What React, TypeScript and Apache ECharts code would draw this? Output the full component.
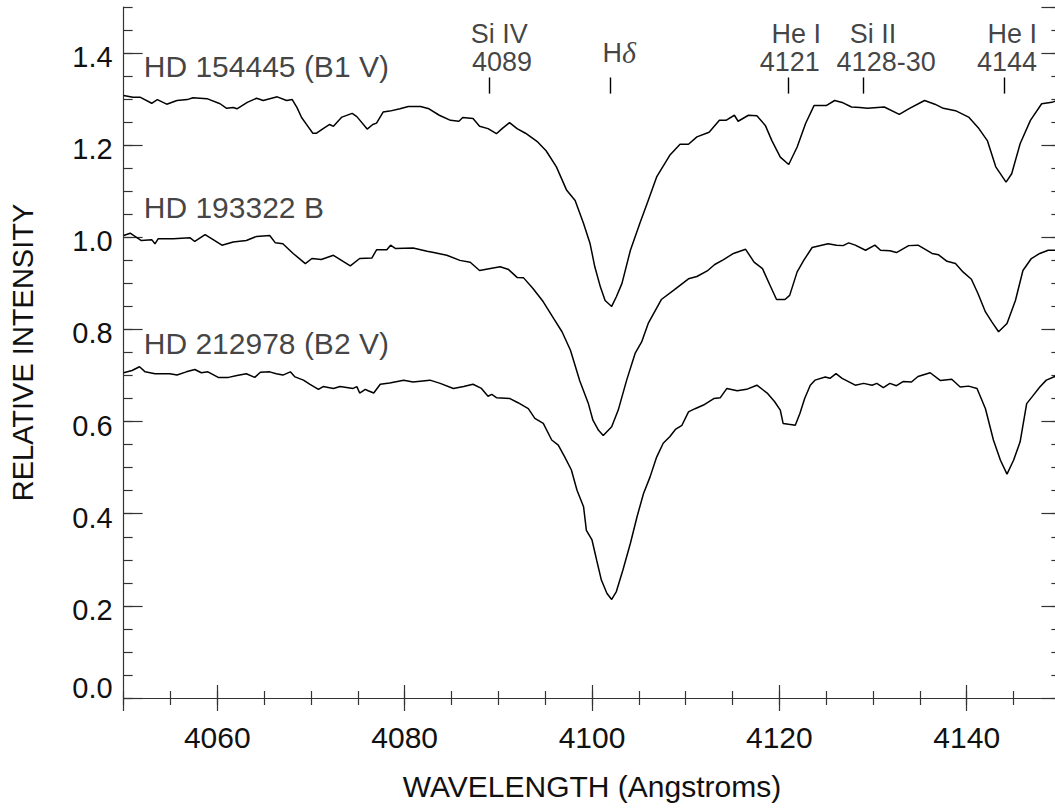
import React, { useEffect, useRef } from 'react';
import * as echarts from 'echarts';

// ---------- DATA ----------
const hd154445Wave = [4050.0, 4051.0, 4051.8, 4053.0, 4053.6, 4054.6, 4055.7, 4056.8, 4057.4, 4058.9, 4060.3, 4061.0, 4061.7, 4062.1, 4063.2, 4064.2, 4064.9, 4066.4, 4067.4, 4068.0, 4068.5, 4069.0, 4069.6, 4070.2, 4070.6, 4071.3, 4072.0, 4072.4, 4073.3, 4074.4, 4074.9, 4076.0, 4076.6, 4077.0, 4077.7, 4078.4, 4079.5, 4080.4, 4081.7, 4082.6, 4083.7, 4084.9, 4085.8, 4086.2, 4087.3, 4088.0, 4088.9, 4089.8, 4090.4, 4091.2, 4092.0, 4092.9, 4094.2, 4095.1, 4096.2, 4097.3, 4098.2, 4099.1, 4099.8, 4100.3, 4100.9, 4101.4, 4102.1, 4102.6, 4103.2, 4104.1, 4105.1, 4106.0, 4106.9, 4108.3, 4109.4, 4110.3, 4111.2, 4112.5, 4113.6, 4114.3, 4115.2, 4115.6, 4116.7, 4117.6, 4118.5, 4119.2, 4120.1, 4121.0, 4121.9, 4122.8, 4123.7, 4125.0, 4125.9, 4126.8, 4127.7, 4128.6, 4129.4, 4131.2, 4132.8, 4133.9, 4135.5, 4136.6, 4137.5, 4138.8, 4140.2, 4141.3, 4142.2, 4143.1, 4144.2, 4144.8, 4145.7, 4146.8, 4148.0, 4149.1, 4150.0];
const hd154445Flux = [1.308, 1.304, 1.304, 1.291, 1.299, 1.289, 1.297, 1.299, 1.303, 1.301, 1.290, 1.280, 1.282, 1.279, 1.293, 1.302, 1.297, 1.305, 1.297, 1.299, 1.282, 1.260, 1.243, 1.226, 1.226, 1.236, 1.245, 1.241, 1.261, 1.269, 1.262, 1.235, 1.245, 1.248, 1.272, 1.274, 1.279, 1.284, 1.284, 1.279, 1.265, 1.254, 1.252, 1.260, 1.258, 1.241, 1.236, 1.225, 1.236, 1.249, 1.236, 1.226, 1.207, 1.188, 1.153, 1.102, 1.080, 1.030, 0.986, 0.936, 0.892, 0.863, 0.850, 0.871, 0.900, 0.972, 1.030, 1.080, 1.131, 1.178, 1.202, 1.202, 1.218, 1.228, 1.254, 1.254, 1.265, 1.252, 1.265, 1.264, 1.243, 1.210, 1.174, 1.158, 1.196, 1.247, 1.286, 1.286, 1.297, 1.292, 1.283, 1.282, 1.280, 1.283, 1.267, 1.280, 1.297, 1.289, 1.280, 1.275, 1.261, 1.236, 1.210, 1.153, 1.120, 1.138, 1.203, 1.254, 1.290, 1.293, 1.300];

const hd193322Wave = [4050.0, 4050.7, 4051.9, 4053.0, 4053.35, 4053.7, 4055.3, 4057.1, 4057.6, 4058.7, 4060.5, 4061.7, 4063.1, 4064.2, 4065.6, 4066.2, 4067.0, 4068.1, 4069.4, 4070.1, 4071.1, 4072.4, 4074.2, 4075.2, 4076.5, 4077.0, 4078.1, 4078.5, 4079.0, 4080.9, 4082.4, 4083.1, 4084.5, 4085.9, 4087.0, 4088.0, 4089.3, 4090.2, 4091.1, 4092.0, 4092.7, 4093.7, 4094.8, 4095.9, 4096.8, 4097.7, 4098.7, 4099.6, 4100.1, 4100.7, 4101.2, 4102.1, 4102.8, 4103.7, 4104.6, 4105.3, 4106.0, 4107.4, 4108.7, 4110.3, 4111.2, 4112.3, 4113.1, 4114.0, 4115.1, 4116.4, 4117.3, 4118.2, 4119.0, 4119.7, 4120.6, 4121.1, 4121.9, 4122.6, 4123.5, 4125.2, 4126.1, 4126.8, 4127.4, 4128.1, 4129.2, 4130.2, 4130.8, 4131.8, 4132.5, 4133.8, 4134.8, 4136.3, 4137.0, 4137.9, 4138.8, 4139.6, 4140.5, 4141.2, 4142.0, 4142.7, 4143.4, 4144.3, 4145.2, 4146.0, 4146.9, 4147.8, 4148.7, 4149.4, 4150.0];
const hd193322Flux = [1.004, 1.009, 0.993, 0.995, 0.986, 0.997, 0.997, 0.999, 0.991, 1.006, 0.983, 0.990, 0.993, 1.002, 1.004, 0.988, 0.986, 0.965, 0.943, 0.954, 0.952, 0.961, 0.938, 0.954, 0.955, 0.973, 0.973, 0.983, 0.976, 0.977, 0.970, 0.967, 0.961, 0.950, 0.946, 0.928, 0.933, 0.936, 0.930, 0.913, 0.912, 0.889, 0.860, 0.824, 0.795, 0.755, 0.688, 0.640, 0.603, 0.581, 0.570, 0.589, 0.625, 0.690, 0.748, 0.773, 0.813, 0.865, 0.885, 0.910, 0.915, 0.927, 0.941, 0.951, 0.965, 0.974, 0.946, 0.932, 0.896, 0.865, 0.865, 0.874, 0.925, 0.950, 0.978, 0.986, 0.983, 0.982, 0.988, 0.983, 0.972, 0.983, 0.972, 0.971, 0.967, 0.982, 0.983, 0.965, 0.962, 0.948, 0.943, 0.925, 0.909, 0.878, 0.838, 0.816, 0.795, 0.813, 0.863, 0.928, 0.954, 0.965, 0.972, 0.972, 0.972];

const hd212978Wave = [4050.0, 4050.9, 4051.7, 4052.3, 4053.35, 4054.95, 4055.7, 4056.7, 4057.6, 4058.3, 4059.0, 4060.1, 4061.2, 4062.1, 4063.1, 4064.0, 4064.6, 4065.6, 4066.3, 4067.0, 4067.8, 4068.3, 4069.2, 4069.9, 4070.8, 4071.3, 4072.4, 4073.1, 4074.5, 4074.9, 4075.2, 4075.8, 4076.1, 4076.7, 4077.4, 4078.4, 4079.9, 4080.9, 4082.7, 4083.8, 4085.2, 4086.3, 4087.3, 4088.2, 4088.9, 4089.3, 4089.8, 4091.25, 4092.1, 4093.2, 4093.9, 4094.8, 4095.7, 4096.4, 4097.1, 4097.8, 4098.4, 4099.1, 4099.4, 4100.0, 4100.5, 4101.0, 4101.6, 4102.1, 4102.6, 4103.3, 4104.1, 4104.8, 4105.5, 4106.2, 4106.9, 4107.6, 4108.3, 4108.9, 4109.6, 4110.3, 4111.0, 4111.9, 4113.0, 4113.7, 4114.4, 4115.5, 4116.5, 4117.6, 4118.7, 4119.5, 4120.1, 4120.4, 4121.0, 4121.7, 4122.2, 4122.7, 4123.3, 4123.8, 4124.9, 4125.4, 4126.05, 4126.7, 4128.1, 4129.0, 4129.9, 4130.4, 4131.1, 4131.8, 4132.5, 4133.2, 4134.1, 4134.8, 4136.1, 4137.2, 4138.4, 4139.3, 4140.2, 4141.1, 4142.0, 4142.85, 4143.6, 4144.3, 4145.0, 4145.7, 4146.4, 4147.1, 4147.8, 4148.5, 4149.4, 4150.0];
const hd212978Flux = [0.706, 0.711, 0.719, 0.708, 0.704, 0.704, 0.701, 0.708, 0.713, 0.706, 0.708, 0.696, 0.696, 0.700, 0.704, 0.696, 0.707, 0.708, 0.704, 0.701, 0.708, 0.697, 0.690, 0.681, 0.670, 0.676, 0.672, 0.676, 0.672, 0.676, 0.662, 0.670, 0.667, 0.662, 0.681, 0.684, 0.690, 0.686, 0.690, 0.683, 0.672, 0.676, 0.681, 0.672, 0.655, 0.659, 0.652, 0.650, 0.641, 0.628, 0.607, 0.596, 0.560, 0.549, 0.523, 0.495, 0.451, 0.415, 0.364, 0.343, 0.299, 0.256, 0.227, 0.214, 0.231, 0.278, 0.336, 0.393, 0.444, 0.480, 0.523, 0.553, 0.567, 0.583, 0.592, 0.621, 0.628, 0.636, 0.650, 0.652, 0.672, 0.667, 0.670, 0.679, 0.662, 0.643, 0.625, 0.596, 0.594, 0.592, 0.618, 0.650, 0.679, 0.690, 0.697, 0.694, 0.704, 0.694, 0.679, 0.683, 0.679, 0.683, 0.674, 0.683, 0.678, 0.687, 0.686, 0.698, 0.706, 0.689, 0.692, 0.675, 0.677, 0.672, 0.628, 0.560, 0.516, 0.486, 0.516, 0.556, 0.639, 0.657, 0.675, 0.690, 0.698, 0.700];

const starNames = ['HD 154445 (B1 V)', 'HD 193322 B', 'HD 212978 (B2 V)'];
const starNameLevels = [1.371, 1.065, 0.769];

// spectral line identifications: wavelength of marker, ion name, wavelength label
const lineWaves = [4089, 4102, 4121, 4129, 4144];
const lineIons = ['Si IV', 'Hδ', 'He I', 'Si II', 'He I'];
const lineWaveLabels = ['4089', '', '4121', '4128-30', '4144'];

const xTickLabels = ['4060', '4080', '4100', '4120', '4140'];
const yTickLabels = ['0.0', '0.2', '0.4', '0.6', '0.8', '1.0', '1.2', '1.4'];

// ---------- LAYOUT (positions in data coordinates) ----------
const ionLabelX = [4090.1, 4102.9, 4121.8, 4130.0, 4144.85];
const ionLabelY = [1.441, 1.401, 1.441, 1.441, 1.441];
const waveLabelX = [4090.4, 0, 4121.1, 4131.4, 4144.3];
const waveLabelY = 1.381;
const markerLow = 1.312;
const markerHigh = 1.347;
const starNameX = 4052.1;

const FONT = '"Liberation Sans", Arial, Helvetica, sans-serif';
const INK = '#111';
const AXIS = '#333';

function zip(a: number[], b: number[]) {
  return a.map((v, i) => [v, b[i]]);
}

export default function App() {
  const ref = useRef<HTMLDivElement>(null);

  useEffect(() => {
    if (!ref.current) return;
    document.body.style.margin = '0';
    document.body.style.overflow = 'hidden';
    const chart = echarts.init(ref.current, null, { renderer: 'svg' });

    const majorX = (pos: string, labels: boolean, name: boolean) => ({
      type: 'value',
      position: pos,
      min: 4050,
      max: 4150,
      splitNumber: 5,
      axisLine: { show: true, lineStyle: { color: AXIS, width: 1.2 } },
      axisTick: { show: true, inside: true, length: 13, lineStyle: { color: AXIS, width: 1.2 } },
      minorTick: { show: false },
      splitLine: { show: false },
      axisLabel: labels
        ? {
            show: true,
            showMinLabel: false,
            showMaxLabel: false,
            margin: 24,
            color: INK,
            fontSize: 30,
            fontFamily: FONT,
            formatter: (v: number) => (xTickLabels.includes(String(v)) ? String(v) : ''),
          }
        : { show: false },
      name: name ? 'WAVELENGTH (Angstroms)' : '',
      nameLocation: 'middle',
      nameGap: 73,
      nameTextStyle: { color: INK, fontSize: 30, fontFamily: FONT },
    });
    const minorX = (pos: string) => ({
      type: 'value',
      position: pos,
      min: 4050,
      max: 4150,
      interval: 5,
      axisLine: { show: false },
      axisTick: { show: true, inside: true, length: 7, lineStyle: { color: AXIS, width: 1.2 } },
      axisLabel: { show: false },
      splitLine: { show: false },
    });
    const majorY = (pos: string, labels: boolean, name: boolean) => ({
      type: 'value',
      position: pos,
      min: 0,
      max: 1.5,
      interval: 0.2,
      axisLine: { show: true, lineStyle: { color: AXIS, width: 1.2 } },
      axisTick: { show: true, inside: true, length: 19, lineStyle: { color: AXIS, width: 1.2 } },
      splitLine: { show: false },
      axisLabel: labels
        ? {
            show: true,
            showMaxLabel: false,
            margin: 11,
            color: INK,
            fontSize: 29,
            fontFamily: FONT,
            formatter: (v: number) => {
              const t = yTickLabels.find((s) => Math.abs(parseFloat(s) - v) < 1e-6);
              if (!t) return '';
              return v === 0 ? '{z|' + t + '}' : '{n|' + t + '}';
            },
            rich: {
              n: { fontSize: 29, fontFamily: FONT, color: INK, padding: [8, 0, 0, 0] },
              z: { fontSize: 29, fontFamily: FONT, color: INK, padding: [0, 0, 20, 0] },
            },
          }
        : { show: false },
      name: name ? 'RELATIVE INTENSITY' : '',
      nameLocation: 'middle',
      nameRotate: 90,
      nameGap: 86,
      nameTextStyle: { color: INK, fontSize: 29, fontFamily: FONT },
    });
    const minorY = (pos: string) => ({
      type: 'value',
      position: pos,
      min: 0,
      max: 1.5,
      interval: 0.05,
      axisLine: { show: false },
      axisTick: { show: true, inside: true, length: 9, lineStyle: { color: AXIS, width: 1.2 } },
      axisLabel: { show: false },
      splitLine: { show: false },
    });

    const spectrum = (name: string, w: number[], f: number[]) => ({
      type: 'line',
      name,
      data: zip(w, f),
      showSymbol: false,
      symbol: 'none',
      smooth: false,
      lineStyle: { color: '#000', width: 1.5 },
      xAxisIndex: 0,
      yAxisIndex: 0,
      silent: true,
      z: 3,
    });

    const markerData = lineWaves.map((w) => [
      { coord: [w, markerLow] },
      { coord: [w, markerHigh] },
    ]);

    const textPoints: any[] = [];
    lineIons.forEach((ion, i) => {
      textPoints.push({ value: [ionLabelX[i], ionLabelY[i]], name: ion });
      if (lineWaveLabels[i]) {
        textPoints.push({ value: [waveLabelX[i], waveLabelY], name: lineWaveLabels[i] });
      }
    });

    const starPoints = starNames.map((n, i) => ({ value: [starNameX, starNameLevels[i]], name: n }));

    chart.setOption({
      animation: false,
      backgroundColor: '#fff',
      grid: { left: 123.6, top: 7, right: 9.6, bottom: 112, containLabel: false },
      xAxis: [majorX('bottom', true, true), majorX('top', false, false), minorX('bottom'), minorX('top')],
      yAxis: [majorY('left', true, true), majorY('right', false, false), minorY('left'), minorY('right')],
      series: [
        spectrum(starNames[0], hd154445Wave, hd154445Flux),
        spectrum(starNames[1], hd193322Wave, hd193322Flux),
        spectrum(starNames[2], hd212978Wave, hd212978Flux),
        {
          type: 'line',
          data: [],
          xAxisIndex: 0,
          yAxisIndex: 0,
          silent: true,
          markLine: {
            silent: true,
            symbol: ['none', 'none'],
            label: { show: false },
            lineStyle: { color: '#000', width: 1.4, type: 'solid' },
            data: markerData,
          },
        },
        {
          type: 'scatter',
          data: textPoints,
          xAxisIndex: 0,
          yAxisIndex: 0,
          symbolSize: 1,
          itemStyle: { color: 'transparent' },
          silent: true,
          label: {
            show: true,
            position: 'inside',
            align: 'center',
            verticalAlign: 'middle',
            color: INK,
            fontSize: 27,
            lineHeight: 24,
            fontFamily: FONT,
            formatter: (p: any) => (p.name === 'Hδ' ? 'H{d|δ}' : p.name),
            rich: {
              d: { fontSize: 30, lineHeight: 24, fontFamily: '"Liberation Serif", "DejaVu Serif", serif', fontStyle: 'italic', color: INK },
            },
          },
        },
        {
          type: 'scatter',
          data: starPoints,
          xAxisIndex: 0,
          yAxisIndex: 0,
          symbolSize: 1,
          itemStyle: { color: 'transparent' },
          silent: true,
          label: {
            show: true,
            position: 'right',
            distance: 0,
            align: 'left',
            verticalAlign: 'middle',
            color: INK,
            fontSize: 30,
            fontFamily: FONT,
            formatter: '{b}',
          },
        },
      ],
    });

    return () => {
      chart.dispose();
    };
  }, []);

  return (
    <div
      ref={ref}
      style={{ position: 'fixed', left: 0, top: 0, width: 1070, height: 810, background: '#fff' }}
    />
  );
}
